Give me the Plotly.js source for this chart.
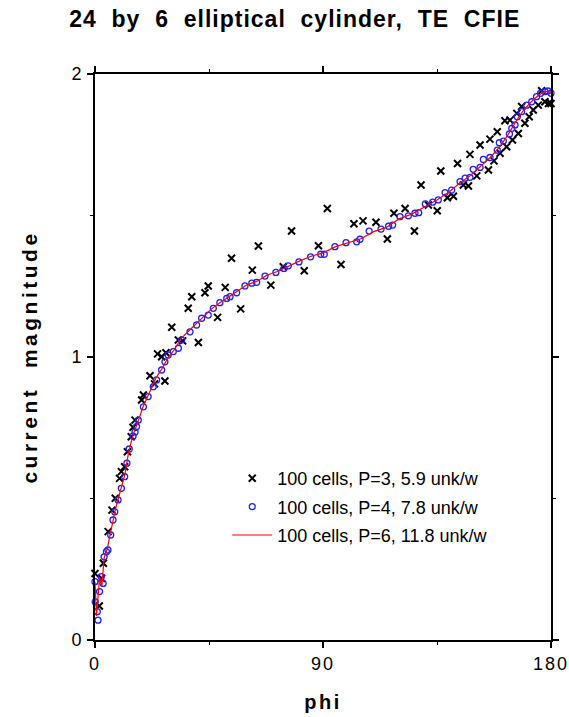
<!DOCTYPE html>
<html>
<head>
<meta charset="utf-8">
<script src="https://cdn.plot.ly/plotly-3.0.1.min.js"></script>
<style>
  html, body { margin: 0; padding: 0; background: #ffffff; }
  #chart { width: 569px; height: 717px; }
  /* wide tracking used throughout the figure lettering */
  #chart .gtitle { letter-spacing: 1px; }
  #chart .xtick text, #chart .ytick text { letter-spacing: 2px; }
  #chart .xtitle { letter-spacing: 2.5px; }
  #chart .ytitle { letter-spacing: 3.5px; }
</style>
</head>
<body>
<div id="chart"></div>
<script>
// Surface current magnitude on a 24 x 6 elliptical cylinder (TE, CFIE),
// three polynomial orders on the same 100-cell mesh.

// P=3 solution (5.9 unknowns per wavelength)
const phiP3 = [0, 1.7, 2.6, 3.3, 5.2, 6.7, 8.0, 9.7, 10.4, 11.7, 12.8, 14.3, 15.0, 15.8,
  18.4, 19.1, 21.7, 23.5, 24.7, 26.3, 27.6, 28.0, 30.3, 32.9, 34.6, 36.8, 38.2, 40.8,
  43.4, 44.7, 48.4, 51.4, 53.9, 57.5, 62.1, 64.5, 69.4, 74.3, 77.6, 82.6, 88.2, 91.7,
  97.1, 102.2, 105.8, 110.9, 115.4, 118.0, 122.4, 126.1, 128.7, 131.6, 135.1, 136.5,
  139.1, 141.5, 143.1, 145.4, 147.4, 148.0, 150.7, 152.0, 155.3, 155.9, 157.5, 158.8,
  159.9, 161.8, 162.5, 163.8, 164.8, 166.5, 167.1, 168.4, 169.7, 171.4, 173.0, 175.0,
  176.3, 177.6, 179.0, 180];
const magP3 = [0.235, 0.12, 0.218, 0.271, 0.383, 0.459, 0.501, 0.571, 0.595, 0.612, 0.665,
  0.718, 0.752, 0.777, 0.848, 0.866, 0.934, 0.905, 1.011, 1.001, 0.915, 1.015, 1.105,
  1.060, 1.057, 1.172, 1.213, 1.051, 1.227, 1.251, 1.140, 1.246, 1.349, 1.170, 1.307,
  1.392, 1.254, 1.319, 1.445, 1.305, 1.393, 1.525, 1.327, 1.471, 1.481, 1.476, 1.417,
  1.508, 1.525, 1.445, 1.608, 1.537, 1.517, 1.657, 1.563, 1.568, 1.684, 1.608, 1.604,
  1.716, 1.640, 1.749, 1.661, 1.770, 1.693, 1.796, 1.720, 1.835, 1.743, 1.837, 1.767,
  1.861, 1.790, 1.885, 1.826, 1.849, 1.873, 1.890, 1.941, 1.902, 1.896, 1.896];

// P=4 solution (7.8 unknowns per wavelength)
const phiP4 = [0, 0.1, 0.9, 1.2, 1.8, 2.5, 3.2, 3.6, 4.5, 5.1, 6.2, 7.1, 7.8, 9.1, 10.4,
  11.7, 12.6, 13.5, 15.0, 15.8, 16.4, 17.1, 19.1, 21.0, 23.0, 24.3, 26.3, 27.6, 28.9,
  30.9, 32.9, 34.2, 37.5, 40.1, 42.1, 44.7, 46.7, 49.3, 52.0, 53.3, 55.9, 59.2, 61.9,
  63.8, 67.1, 71.4, 74.6, 76.3, 80.5, 85.1, 89.1, 90.5, 94.7, 99.1, 103.3, 104.6, 108.2,
  112.9, 115.9, 117.5, 120.4, 123.7, 126.3, 127.8, 130.4, 133.3, 135.5, 138.2, 140.8,
  144.1, 146.1, 148.0, 149.3, 152.0, 153.3, 155.9, 158.8, 159.6, 161.2, 163.6, 164.5,
  165.8, 166.7, 168.4, 170.4, 172.4, 174.3, 175.9, 177.6, 178.8, 180];
const magP4 = [0.206, 0.135, 0.10, 0.07, 0.171, 0.224, 0.200, 0.294, 0.312, 0.318, 0.371,
  0.424, 0.453, 0.495, 0.536, 0.577, 0.625, 0.675, 0.720, 0.735, 0.754, 0.777, 0.824,
  0.860, 0.895, 0.919, 0.954, 0.983, 1.007, 1.019, 1.031, 1.060, 1.089, 1.113, 1.137,
  1.148, 1.172, 1.192, 1.207, 1.213, 1.227, 1.251, 1.261, 1.264, 1.286, 1.299, 1.313,
  1.322, 1.336, 1.354, 1.363, 1.363, 1.390, 1.404, 1.407, 1.416, 1.445, 1.452, 1.462,
  1.466, 1.496, 1.499, 1.508, 1.510, 1.541, 1.547, 1.555, 1.581, 1.590, 1.620, 1.632,
  1.635, 1.663, 1.670, 1.698, 1.705, 1.731, 1.757, 1.763, 1.788, 1.808, 1.820, 1.849,
  1.867, 1.890, 1.902, 1.920, 1.932, 1.938, 1.940, 1.932];

// P=6 solution (11.8 unknowns per wavelength)
const phiP6 = [0, 0.6, 1.8, 2.7, 3.6, 4.8, 5.8, 7, 8, 9.2, 10.5, 11.8, 13.2, 15, 17, 19,
  21.5, 24, 26.5, 29, 31, 34, 37, 40, 43, 46, 49, 52, 56, 60, 64, 68, 72, 76, 80, 85,
  90, 95, 100, 105, 110, 115, 120, 125, 130, 135, 140, 144, 148, 152, 156, 160, 163,
  166, 169, 172, 175, 177, 179, 180];
const magP6 = [0.206, 0.085, 0.222, 0.19, 0.29, 0.32, 0.365, 0.42, 0.46, 0.50, 0.54, 0.585,
  0.66, 0.725, 0.772, 0.825, 0.875, 0.925, 0.96, 1.0, 1.022, 1.065, 1.092, 1.118, 1.145,
  1.17, 1.19, 1.207, 1.23, 1.255, 1.268, 1.29, 1.302, 1.32, 1.336, 1.355, 1.368, 1.39,
  1.405, 1.418, 1.443, 1.458, 1.488, 1.505, 1.53, 1.555, 1.585, 1.615, 1.64, 1.672,
  1.705, 1.745, 1.785, 1.83, 1.87, 1.9, 1.924, 1.935, 1.94, 1.932];

const seriesNames = [
  '100 cells, P=3, 5.9 unk/w',
  '100 cells, P=4, 7.8 unk/w',
  '100 cells, P=6, 11.8 unk/w'
];
const xTicks = [0, 90, 180];
const yTicks = [0, 1, 2];

const FONT = 'Liberation Sans, Arial, Helvetica, sans-serif';
const NB = '\u00a0\u00a0';

const traces = [
  {
    x: phiP3, y: magP3, name: seriesNames[0], type: 'scatter', mode: 'markers',
    legendgroup: 'a', cliponaxis: false,
    marker: { symbol: 'x-thin', size: 7, color: '#000000', line: { color: '#000000', width: 2 } }
  },
  {
    x: phiP4, y: magP4, name: seriesNames[1], type: 'scatter', mode: 'markers',
    legendgroup: 'b', cliponaxis: false,
    marker: { symbol: 'circle-open', size: 6, color: '#1f1fff', line: { color: '#1f1fff', width: 1.3 } }
  },
  {
    x: phiP6, y: magP6, name: seriesNames[2], type: 'scatter', mode: 'lines',
    legendgroup: 'c', cliponaxis: false,
    line: { color: '#ff0000', width: 1.2 }
  }
];

const axisCommon = {
  showline: true, linecolor: '#000000', linewidth: 2, mirror: 'allticks',
  ticks: 'outside', ticklen: 6, tickwidth: 1.5, tickcolor: '#000000',
  showgrid: false, zeroline: false,
  tickfont: { family: FONT, size: 18, color: '#000000' }
};

const layout = {
  width: 569, height: 717,
  margin: { l: 95, r: 18, t: 74, b: 77 },
  paper_bgcolor: '#ffffff', plot_bgcolor: '#ffffff',
  showlegend: true,
  title: {
    text: '24' + NB + 'by' + NB + '6' + NB + 'elliptical' + NB + 'cylinder,' + NB + 'TE' + NB + 'CFIE',
    font: { family: FONT, size: 23, weight: 'bold', color: '#000000' },
    xref: 'container', x: 0.518, xanchor: 'center',
    yref: 'container', y: 0.973, yanchor: 'middle'
  },
  xaxis: Object.assign({}, axisCommon, {
    range: [0, 180], tickmode: 'array', tickvals: xTicks, ticktext: xTicks.map(String),
    minor: { dtick: 45, tick0: 0, ticks: 'outside', ticklen: 3, tickwidth: 1, tickcolor: '#000000' },
    title: { text: 'phi', font: { family: FONT, size: 20, weight: 'bold', color: '#000000' }, standoff: 22 }
  }),
  yaxis: Object.assign({}, axisCommon, {
    range: [0, 2], tickmode: 'array', tickvals: yTicks, ticktext: yTicks.map(String),
    minor: { dtick: 0.5, tick0: 0, ticks: 'outside', ticklen: 3, tickwidth: 1, tickcolor: '#000000' },
    title: { text: 'current' + NB + 'magnitude', font: { family: FONT, size: 21, weight: 'bold', color: '#000000' }, standoff: 30 }
  }),
  legend: {
    x: 0.29, xanchor: 'left', y: 0.318, yanchor: 'top',
    bgcolor: 'rgba(0,0,0,0)', borderwidth: 0,
    font: { family: FONT, size: 18, color: '#000000' },
    tracegroupgap: 2, itemwidth: 40
  }
};

Plotly.newPlot('chart', traces, layout, { staticPlot: true, displayModeBar: false });
</script>
</body>
</html>
